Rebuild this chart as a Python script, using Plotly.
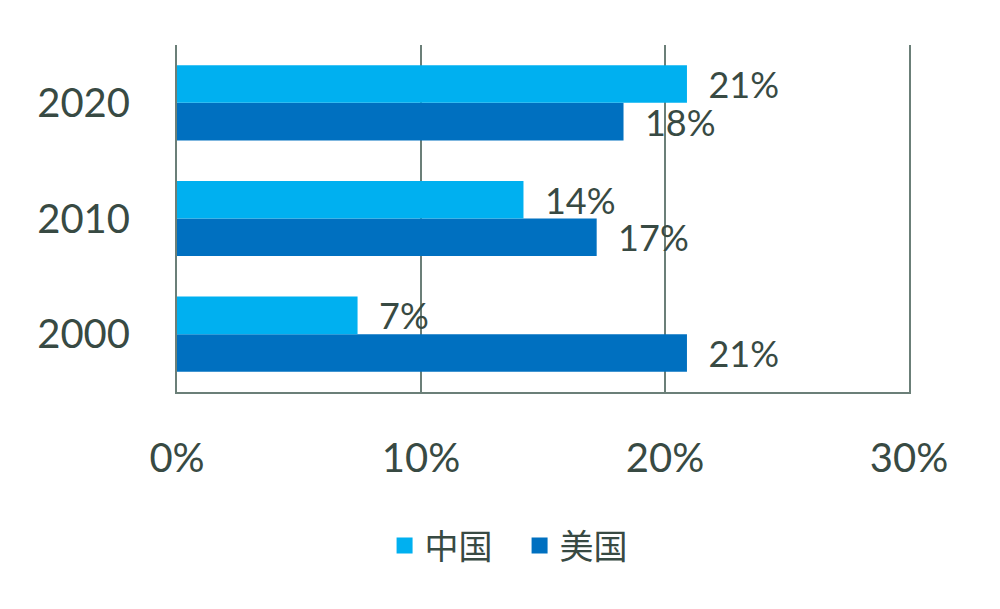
import plotly.graph_objects as go

# 数据
years = ["2000", "2010", "2020"]
china = [0.074, 0.142, 0.209]
usa = [0.209, 0.172, 0.183]

GRID = "#6B7F78"
TEXT = "#384A43"
FONT = "Lato, 'Noto Sans CJK SC', sans-serif"
C_CN = "#00B0F0"
C_US = "#0070C0"

fig = go.Figure()

# US first so it sits at the bottom of each group
for name, vals, color in (("美国", usa, C_US), ("中国", china, C_CN)):
    fig.add_trace(
        go.Bar(
            y=years, x=vals, orientation="h", name=name, showlegend=False,
            marker=dict(color=color, line=dict(width=0)),
            texttemplate="\u00a0\u00a0%{x:.0%}", textposition="outside",
            constraintext="none", cliponaxis=False,
            textfont=dict(size=36, color=TEXT),
        )
    )

# legend entries with bigger square swatches
for name, color in (("中国", C_CN), ("美国", C_US)):
    fig.add_trace(
        go.Scatter(
            x=[None], y=[None], mode="markers", name=name,
            marker=dict(symbol="square", size=16, color=color),
        )
    )

fig.update_layout(
    width=1000, height=609,
    margin=dict(l=169, r=99, t=37, b=225, autoexpand=False),
    barmode="group", bargap=0.35, bargroupgap=0,
    plot_bgcolor="white", paper_bgcolor="white",
    font=dict(family=FONT, color=TEXT),
    legend=dict(
        orientation="h", itemsizing="trace",
        entrywidth=90, entrywidthmode="pixels",
        x=0.468, xanchor="center", y=-0.36, yanchor="top",
        font=dict(size=34, color=TEXT),
    ),
)
fig.update_xaxes(
    range=[0, 0.30], dtick=0.1, tickformat=".0%",
    showgrid=True, gridcolor=GRID, gridwidth=2,
    zeroline=False, showline=True, linecolor=GRID, linewidth=2,
    ticklabelstandoff=30, tickfont=dict(size=40, color=TEXT),
    automargin=False,
)
fig.update_yaxes(
    showgrid=False, zeroline=False,
    showline=True, linecolor=GRID, linewidth=2, mirror=True,
    ticklabelstandoff=37, tickfont=dict(size=40, color=TEXT),
    automargin=False,
)

fig.write_html("out.html")
